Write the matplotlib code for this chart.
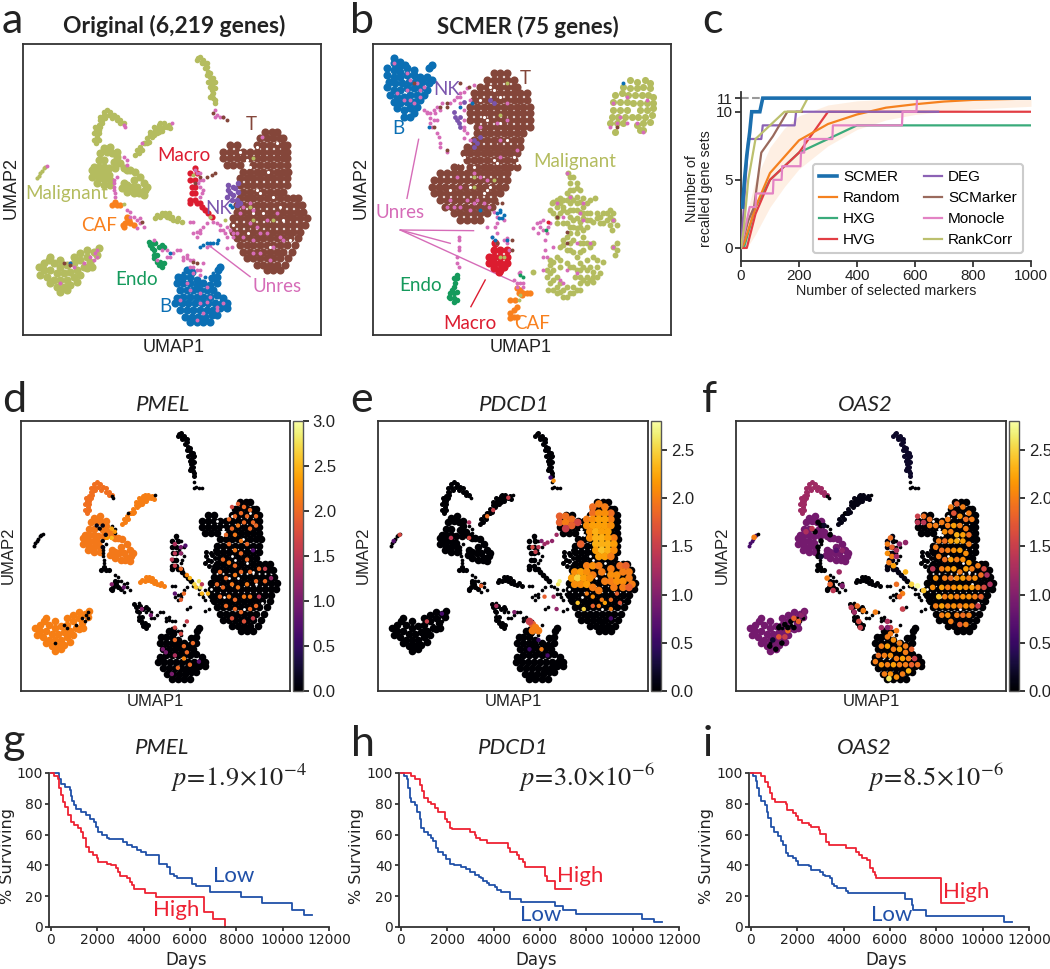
import numpy as np
import matplotlib
matplotlib.use('Agg')
import matplotlib.pyplot as plt
from matplotlib.cm import ScalarMappable
from matplotlib.colors import Normalize

W, H = 1050, 969
plt.rcParams['mathtext.fontset'] = 'stix'
SANS = 'Liberation Sans'
CAL = 'Lato'

# ---- embedding of panel a (and d, e, f): arbitrary UMAP units, y axis points down
A_T_ROWS = {39.5: [79.5, 81.5, 83], 41.5: [78, 80, 82, 84, 85],
            43.5: [69, 71, 77, 79, 81, 83, 85, 86], 45.5: [67, 69, 71, 73, 75, 77, 79, 81, 83, 85, 86],
            47.5: [67, 69, 71, 73, 75, 77, 79, 81, 83, 85, 86], 49.5: [68, 70, 72, 76, 78, 80, 82, 84, 86],
            51.5: [73, 75, 77, 79, 81, 83, 85, 86.5], 53.5: [72, 74, 76, 78, 80, 82, 84, 86],
            55.5: [72, 74, 76, 78, 80, 82, 84, 86], 57.5: [73, 75, 77, 79, 81, 83, 85],
            59.5: [72, 74, 76, 78, 80, 82, 84, 86, 88, 89.5], 61.5: [71, 73, 75, 77, 79, 81, 83, 85, 87, 89, 90.5],
            63.5: [71, 73, 75, 77, 79, 81, 83, 85, 87, 89, 91], 65.5: [70, 72, 74, 76, 78, 80, 82, 84, 86, 88, 90, 92],
            67.5: [70, 72, 74, 76, 78, 80, 82, 84, 86, 88, 90, 91.5], 69.5: [70, 72, 74, 76, 78, 80, 82, 84, 86, 88, 90],
            71.5: [71, 73, 75, 77, 79, 81, 83, 85, 87, 89.5], 73.5: [72, 74, 76, 78, 80, 82, 84, 86, 88.5],
            75.5: [73, 75, 77, 79, 81, 83, 85, 87.5], 77.5: [74, 76, 78, 80, 82, 84, 86.5],
            79.5: [77, 79, 81, 83, 85.5], 81: [80, 82, 84]}
A_T_HOLES = [(71, 51), (74, 48), (77, 57), (78, 58), (82, 59), (80.5, 51.5), (79, 64), (87, 72), (70, 67.5), (75, 50), (84, 62), (74.5, 70),
             (81, 74), (83, 43), (77, 44), (72, 45.5), (85, 66), (76, 64)]
A_B = [(56, 81), (57.5, 81.5), (65.5, 81), (66, 80), (65, 83), (63.5, 83.5), (55, 83), (53.5, 83), (57, 83), (59, 84),
       (53, 85), (55, 85), (57, 85), (59, 85.5), (61, 85), (63, 85.5), (65, 85), (62, 87), (64, 87), (54, 87), (56, 87),
       (58, 87), (60, 87), (55, 89), (57, 89), (59, 89), (61, 89), (63, 89), (65, 88.5), (53, 89.5), (67, 89.5),
       (52.5, 91), (54.5, 91), (56.5, 91), (58.5, 91), (60.5, 91), (62.5, 91), (64.5, 91), (66.5, 91), (68, 91),
       (54, 93), (56, 93), (58, 93), (60, 93), (62, 93), (64, 93), (66, 92.5), (68, 92.5), (55.5, 95), (57.5, 95),
       (59.5, 95), (61.5, 95), (63.5, 94.5), (65, 94.5), (57, 96.5), (59, 96.5), (61, 96.5), (63, 96.5)]
A_MACRO = [(58.5, 50.5), (57, 52), (59, 52), (57, 54), (58.5, 54), (57.5, 56), (58.5, 56), (57.5, 58), (58.5, 58),
           (57, 60), (58.5, 60), (57, 61), (60, 61), (59, 61), (60.5, 62), (61.5, 63), (62.5, 64), (63.5, 65)]
A_CAF = [(34.5, 60.5), (33.5, 61.5), (35, 61.5), (36, 61.5), (38, 65), (37.5, 67), (38.5, 66), (37, 68), (39, 67),
         (40, 67.5), (38, 65.5), (36.8, 67.5)]
A_ENDO = [(45, 73.5), (46.5, 73), (46, 75), (47.5, 74), (48.5, 73.5), (46, 77.5), (47, 78.5), (47.5, 79.5), (48.5, 80),
          (47, 76.5), (44.5, 72.5), (45.5, 74.5), (49, 74), (46, 76.5), (48, 78.5), (49, 79), (46, 73)]
A_NK = [(68.5, 55.5), (70, 56), (71.5, 55), (69, 58), (70, 58.5), (71.5, 57.5), (68, 59), (69.5, 60), (71, 60), (72, 61),
        (71, 61.5), (70.5, 56.5), (68.5, 57)]
A_TOP = [(59.5, 17.5), (61, 18), (60.5, 19), (62, 20), (62.5, 21.5), (63, 23), (63.5, 24), (64, 25), (63, 26), (63.5, 27),
         (64, 28), (64, 29.5), (64.5, 31), (60.5, 18.5), (61.5, 19), (63, 22), (64, 23.5), (63.5, 28.5), (59, 18), (60, 17),
         (61.5, 20.5), (62, 22.5), (63.5, 25.5), (64.5, 26.5), (62.5, 24.5), (64, 26.5), (63, 29), (64.5, 30), (62, 19), (64.5, 24.5)]
A_ARC = [(28.8, 43), (29, 41), (28.8, 39), (29.5, 37.5), (30.5, 36), (30, 38), (29.5, 40), (31, 34.5), (32, 33),
         (33, 33.5), (34, 34.5), (35, 35), (36, 36), (37, 37), (31.5, 35.5), (30.5, 37), (28, 42), (28, 40), (28.5, 38),
         (29.5, 42), (30, 36), (31, 33.5), (32.5, 34.5), (33.5, 35.5), (35, 36), (36, 37), (30, 35), (29.5, 39)]
A_STRAND = [(40.5, 46.5), (41, 45), (42, 44), (43, 43), (44, 41.5), (45, 40.5), (46, 39.5), (47, 38.5), (48, 38.2),
            (49, 38), (50, 38), (46.5, 38.5), (47.5, 37.5), (45.5, 41), (47, 40), (48.5, 39.2), (46, 40.5), (41.5, 46),
            (42.5, 45), (43.5, 43), (44.5, 42.5), (45, 39.5), (47.5, 39.5), (49, 37), (50.5, 37.5), (51, 38.5), (44, 43),
            (48, 37), (46, 38)]
A_FLOWER = [(30, 46), (32, 45.5), (33.5, 46), (35, 47), (29.5, 48), (31, 48), (34, 48.5), (36, 49), (28, 50), (29.5, 50),
            (31, 50), (32.5, 50.5), (34.5, 50.5), (28, 52), (29.5, 52), (31, 52), (32.5, 52.5), (29.5, 53.5), (31, 53.8),
            (33, 54), (39, 51), (40.5, 51.5), (42, 53), (43, 55), (43.5, 57), (42, 57.5), (41, 56), (39.5, 56), (38, 55.5),
            (37, 55), (36.5, 56.5), (40, 54), (38, 51), (41.5, 58), (37, 50.5), (31, 44.5), (33, 44), (35, 45.5), (27.5, 51),
            (27.5, 53), (29, 55), (31, 55.5), (33, 55.5), (38, 57.5), (40, 58), (43, 58.5), (44, 56)]
A_STICK = [(11, 53.5), (11.5, 52.8), (12, 52), (12.5, 51.3), (13, 50.5), (13.5, 50)]
A_STRIP = [(46.5, 65.3), (48, 65), (49, 64.5), (50, 65), (51, 65.5), (52, 66), (53, 66.3), (54.5, 66.5), (49.5, 63.8), (47, 64.5),
           (48.5, 63.8), (50.5, 64), (51.5, 65), (53.5, 65.5)]
A_LOWER = [(14.5, 78), (16, 79), (18, 80), (20, 79.5), (22, 79), (24, 78), (26, 77), (28, 75.5), (29.5, 74.5), (11.5, 80),
           (13, 81), (15, 81), (17, 82), (19, 82), (21, 81.5), (23, 81), (25, 80), (27, 78.5), (29, 76.5), (12, 82.5),
           (14, 83), (16, 84), (18, 84), (20, 84), (22, 83), (24, 82.5), (26, 80.5), (27.5, 80), (15, 85), (17, 86),
           (19, 86), (21, 85.5), (23, 84.5), (18, 87.5), (20, 87), (13, 79), (15, 77), (18, 78), (22, 77), (24, 76), (26, 75)]
A_UNRES = [(64.5, 33), (65, 34.5), (66, 35), (67, 35), (64.5, 35), (34, 54), (34, 55), (34, 56), (34.2, 57), (34.5, 58),
           (34.5, 59), (35, 53), (37, 47), (38, 48), (38, 49.5), (37, 37.5), (37.5, 38), (51.5, 37), (42.5, 43), (14, 49.8),
           (58.5, 51), (59, 52), (60, 52), (60, 54), (59.5, 55), (61, 54), (60, 56), (61, 57), (60.5, 58), (60, 59),
           (63, 65), (64, 66.5), (65, 67), (66, 67.5), (66, 69), (67, 69), (67.5, 70), (68, 68), (69, 69), (70, 70), (70, 71),
           (68, 71), (62, 67), (61, 68), (60, 69), (59, 69.5), (58, 70), (60, 70), (59, 71), (57, 66.5), (58, 66.5),
           (29, 75), (28.5, 76), (29, 77), (27, 77), (28, 78), (25, 79), (22, 80), (21, 79), (18, 85), (38, 63), (39, 63.5),
           (39, 65), (40, 65), (41, 66), (42, 67), (43, 68), (41, 68.5), (42, 65.5), (46, 72), (47, 78), (50, 75), (50, 77),
           (51, 77), (52, 76), (53, 75), (54, 75), (55, 77), (56, 76.5), (56, 77.5), (57, 78), (58, 78), (57, 80), (58, 80),
           (59, 81), (60, 81), (60, 82.5), (58, 82), (61, 79), (55, 78), (48.5, 75), (62, 74), (63, 73.5), (68, 74.5),
           (69.5, 74), (78.5, 41), (72, 64), (75, 61), (71, 70), (73, 71), (75, 67), (76, 72), (78, 70), (80, 70), (82, 74),
           (84, 71), (78, 76), (76, 76), (81, 78), (85, 72), (73, 62), (76, 63), (77, 68), (80, 66), (83, 64), (56, 85),
           (57, 87), (60, 88), (62, 86), (63, 89), (65, 92), (60, 91), (54, 90), (61, 94), (59, 96), (67, 91), (62, 90.5), (65, 93)]
A_SPARSE_BLUE = [(60, 74), (61, 73.5), (62, 73), (63, 73), (64, 73), (65.5, 72), (65, 73), (69, 61.5), (69.5, 62), (51, 76),
                 (21, 79), (61.5, 83), (63, 83), (55, 82), (64, 82)]
A_SPARSE_BROWN = [(62, 53), (63.5, 52.5), (64.5, 52), (60, 53), (58.5, 55), (67, 35), (68, 36), (64, 34), (42.5, 66.5),
                  (58, 78.5), (59, 79), (19, 79), (21, 79.5), (72, 66), (90, 70.5)]
A_SPARSE_OLIVE = [(37, 61.3), (46.5, 65.3), (67.5, 66), (63, 65), (76, 47.5), (75, 62), (76, 66), (82, 66), (58, 52.5)]

# ---- embedding of panel b
B_T_ROWS = {22: [43, 45, 47], 24: [41, 43, 45, 47, 49], 26: [39, 41, 43, 45, 47, 49, 50],
            28: [37, 39, 41, 43, 45, 47, 49, 51, 53], 30: [37, 39, 41, 43, 45, 47, 49, 51, 53],
            32: [36, 38, 40, 42, 44, 46, 48, 50, 52, 54], 34: [36, 38, 40, 42, 44, 46, 48, 50, 52, 54],
            36: [36, 38, 40, 42, 44, 46, 48, 50, 52, 54], 38: [38, 40, 42, 44, 46, 48, 50, 52, 54],
            40: [38, 40, 42, 44, 46, 48, 50, 52], 42: [37, 39, 41, 43, 45, 47, 49, 51],
            44: [35, 37, 39, 41, 43, 45, 47, 49, 51], 46: [34, 36, 38, 40, 42, 44, 46, 48, 50],
            48: [35, 37, 39, 41, 43, 45, 47, 49], 50: [31, 33, 36, 38, 40, 42, 44, 46, 48, 50],
            52: [27, 29, 31, 33, 35, 37, 39, 41, 43, 45, 47], 54: [25, 27, 29, 31, 33, 35, 37, 39, 41, 43, 45, 47],
            56: [24.5, 26.5, 28.5, 30.5, 32.5, 34.5, 36.5, 38.5, 40.5, 42.5, 44.5, 46.5],
            58: [25, 27, 29, 31, 33, 35, 37, 39, 41, 43, 45], 60: [27, 29, 31, 33, 35, 37, 39, 41, 43],
            62: [28.5, 30.5, 32.5, 34.5, 36.5, 38.5, 40.5, 42.5], 64: [31, 33, 35, 37, 39, 41], 66: [33, 35, 37, 39]}
B_T_HOLES = [(40, 35), (41, 36), (42, 26), (43, 27), (45, 37), (43, 48), (44, 49), (49, 47), (50, 49), (34, 47), (33, 49), (37, 50), (40, 58),
             (42, 56), (41, 57), (39, 30), (45, 29), (47, 42), (36, 56), (30, 57)]
B_B = [(13, 17.5), (15, 18.5), (13, 19), (14.5, 20), (16.5, 19.5), (11, 20.5), (13, 21), (15, 21.5), (17, 20.5), (19, 21),
       (11, 22.5), (13, 23), (15, 23), (17, 22.5), (19, 22.5), (21, 23), (23, 23), (24.5, 24), (11.5, 24.5), (13.5, 25),
       (15.5, 25), (17.5, 24.5), (19.5, 24.5), (21.5, 24.5), (23.5, 25), (11, 26), (13, 27), (15, 27), (17, 26.5), (19, 26.5),
       (21, 26.5), (23, 27), (12, 28.5), (14, 29), (16, 29), (18, 28.5), (20, 28.5), (22, 28.5), (13, 30.5), (15, 31),
       (17, 30.5), (19, 30.5), (21, 30), (14, 32.5), (16, 33), (18, 32.5), (20, 32), (16, 35), (18, 35), (19, 34),
       (24.5, 19.5), (23.5, 20.5)]
B_MAL_UP = [(84, 24), (86, 24.5), (88.5, 24), (90, 25), (82, 26), (84, 26.5), (86, 26.5), (88, 26), (90, 26.5), (79.5, 28.5),
            (81.5, 28), (83.5, 28.5), (85.5, 28.5), (87.5, 28.5), (89.5, 28.5), (91, 29), (79, 30.5), (81, 30.5), (83, 30.5),
            (85, 31), (87, 31), (89, 31), (91, 31), (79, 33), (81, 33), (83, 33), (87, 33), (89, 33), (91, 32.5), (78.5, 35),
            (80.5, 35), (82.5, 35), (84.5, 35), (86.5, 35), (88.5, 35), (90.5, 34.5), (78, 37), (80, 37), (82, 37), (86, 37.5),
            (88, 37), (90, 36.5), (79.5, 39.5), (87, 39), (88, 39)]
B_MAL_LOW = [(65.5, 52), (67, 53), (66, 55), (68, 55), (67, 57), (69, 57), (65, 58), (62, 60), (64, 60), (66, 59), (68, 59),
             (70, 59.5), (60.5, 61), (62, 62), (64, 62), (66, 61), (68, 61), (70, 62), (72, 60), (73.5, 59.5), (61, 64), (63, 64),
             (65, 63.5), (67, 63), (69, 63.5), (71, 64), (66, 65), (68, 65.5), (70, 65.5), (72, 66), (74, 65.5), (76, 64), (78, 63),
             (79, 64), (79, 66), (77, 66), (75, 67), (80, 67.5), (78.5, 69), (65, 67), (67, 68), (69, 68), (71, 68), (62, 67),
             (66, 70), (68, 70), (70, 71), (64, 72), (66, 73), (69, 73), (71, 73), (73, 73), (79, 74), (80, 75), (79.5, 76.5),
             (63, 74), (65, 75), (67, 75.5), (70, 75), (68, 77), (69, 79), (71, 78), (73, 77), (60, 78), (62, 77), (60, 79.5),
             (59, 81), (61, 81), (63, 80), (66, 80), (68, 81), (70, 80), (72, 80), (74, 80), (76, 78.5), (59, 83), (62, 83),
             (67.5, 83), (69, 83), (71, 83), (73, 83), (75, 82), (60, 85), (62, 86), (64, 87), (67, 86), (69, 85), (71, 85),
             (73, 84.5), (59.5, 87), (62, 88), (64, 89), (66, 88), (68, 87), (55, 81.5), (66, 53), (68, 56.5), (66, 57), (63, 59.5),
             (61, 60.5), (63, 61), (65, 60), (67, 60), (69, 60.5), (71, 61), (60, 63), (62, 65), (64, 63), (66, 63), (68, 63), (70, 64),
             (72, 64), (74, 64), (77, 64), (78, 65), (67, 66), (69, 66.5), (71, 66), (73, 66.5), (75, 65), (76, 67), (78, 67.5), (64, 67),
             (66, 68), (68, 68.5), (70, 69), (65, 71), (67, 72), (70, 73), (72, 74), (80, 73), (64, 73.5), (66, 75), (69, 75.5), (61, 78.5),
             (63, 78), (65, 79), (67, 80), (69, 81), (71, 81), (73, 81.5), (60, 82), (61, 84), (63, 85), (65, 86), (70, 84), (72, 84),
             (74, 83), (61, 87), (63, 87.5), (65, 89), (67, 88), (69, 87), (74, 78)]
B_MACRO = [(43.5, 73), (45, 75), (43, 75), (41.5, 77), (43, 77), (45, 77), (47, 77), (41.5, 79), (43, 79), (45, 79), (47, 79),
           (43, 80.5), (45, 81), (46, 80), (44.5, 81.5), (47, 75)]
B_ENDO = [(32, 82.5), (32, 83.5), (31.5, 85), (31, 86), (30, 88), (29.5, 89), (31, 88), (32, 87.5), (30, 89.5), (31, 89.5),
          (31, 90.5), (32, 90), (30.5, 87), (31, 83.5)]
B_CAF = [(50, 86.5), (51, 87), (52, 88), (53, 88), (54, 88), (51.5, 88.5), (50.5, 88), (48, 90), (49.5, 90), (50, 92), (49, 93),
         (48, 94), (49, 95), (47.8, 95.5), (50, 95), (51.5, 88)]
B_NK = [(31, 33.5), (31.5, 35), (32, 36), (32.5, 37), (33, 38), (37, 42), (38, 43), (37, 44), (33, 35), (34, 30.5), (42, 30),
        (43, 31), (39, 41)]
B_UNRES = [(22, 33), (23, 34), (24, 34), (25, 33), (24, 35.5), (25, 36), (24, 37), (23, 33.5), (25.5, 34), (26, 32), (27, 33),
           (27.5, 31), (26, 36), (24.5, 38), (26, 40), (26.5, 41), (27, 43), (27, 44), (29, 45.5), (30, 31), (31, 30), (32, 29),
           (33, 28), (34, 27.5), (35, 26.5), (37, 25.5), (33, 31), (34, 33), (34, 36), (34, 38), (35, 40), (34, 41.5), (36, 42),
           (34, 39), (39, 38), (41.5, 62), (43, 63.5), (44, 65), (46, 66), (44, 67), (41, 68), (43.5, 68), (44, 70), (42.5, 71),
           (46, 72), (47, 73), (47.5, 75), (47, 71.5), (44, 73), (32.5, 71), (32.5, 72), (32.5, 74), (32.5, 75), (32, 77),
           (32, 79), (32.5, 80), (50.5, 82), (49, 84), (50, 85), (51, 85), (52, 85), (50, 86), (52, 86), (51, 81.5), (55, 68.5),
           (56, 67), (57, 66.5), (57, 68), (58, 69), (59, 70), (56.5, 70), (58, 66), (59.5, 68), (60, 67), (58.5, 72), (58.5, 75),
           (58, 77), (59, 77), (61, 74), (58, 81), (63, 84), (33, 62), (35, 60), (37, 61), (36, 63), (38, 60), (33, 56), (32, 53),
           (41, 54), (40, 61), (45, 47), (36, 30), (44, 37), (47, 36), (45, 42), (39, 53), (37, 52), (47, 31), (50, 45), (33, 29),
           (31, 62), (30, 60), (29, 62), (13, 19), (17, 22), (18, 24), (20, 25), (21, 27), (14, 28), (16, 30), (18, 30), (21, 29),
           (22, 26), (17, 27), (19, 31), (79, 31), (81, 35), (83, 37), (78, 38), (88, 39.5), (86, 37), (89, 30), (83, 29), (80, 37),
           (65, 52), (66, 59), (62, 61), (70, 61), (69, 64), (64, 65), (79, 66), (79, 74), (68, 73), (72, 73), (65, 81), (64, 85),
           (68, 82), (70, 66)]
B_SPARSE_BLUE = [(44, 64), (45, 63.5), (46, 64.5), (44.5, 65.5), (45.5, 65.5), (43.5, 72), (47, 72), (39, 63), (33, 32),
                 (42.5, 71), (82, 25), (23.5, 38), (45, 63), (36.5, 31)]
B_SPARSE_BROWN = [(25, 38), (27, 32), (29, 32), (29, 31), (33, 25), (35.5, 26), (29, 45), (48.5, 75), (48.5, 72), (44, 61),
                  (45.5, 61), (62, 65), (65, 69.5), (65, 73), (80, 38), (19, 25), (44, 73)]
B_SPARSE_OLIVE = [(51, 88.5), (50.5, 90), (45, 34.5), (47, 25), (43, 54), (37, 53), (37, 56), (45, 77), (46, 77)]
B_SPARSE_GREEN = [(58.8, 69), (51, 82.5), (52, 83)]
B_SPARSE_RED = [(59.5, 66.5)]

# ---- expression levels: one level per cluster of the embedding, then single hot cells (x, y, value)
CLUSTER_NAMES = ['T', 'B', 'Macro', 'CAF', 'Endo', 'NK', 'top', 'arc', 'strand', 'flower', 'stick', 'strip', 'lower', 'Unres']
PMEL_LEVELS = [0, 0, 0, 0, 0, 0, 0, 2.05, 2.15, 2.1, 0, 2.15, 2.15, 0]
PDCD1_LEVELS = [0] * 14
OAS2_LEVELS = [0, 0, 0.1, 0, 0, 0, 0.2, 1.2, 0.1, 0.9, 0.6, 0, 0.9, 0]

PMEL_HOT = [(77, 41, 1.7), (79, 40, 1.9), (81, 41, 2), (83, 42, 2), (85, 44, 2), (84, 46, 2), (82, 44, 2), (80, 43, 2), (78, 44, 2),
            (76, 45, 2), (81, 46, 2), (83, 48, 2), (79, 47, 2.1), (77, 48, 2), (85, 47, 2), (75, 50, 2), (78, 50, 2.1), (80, 52, 2.1),
            (82, 53, 2), (76, 53, 2), (78, 55, 2.1), (80, 56, 2), (74, 58, 2), (76, 59, 2.1), (78, 60, 2), (82, 58, 2), (84, 55, 0.7),
            (73, 62, 2), (75, 64, 2), (78, 63, 2.1), (80, 62, 2), (83, 62, 2), (86, 61, 2), (88, 61, 1.6), (72, 66, 2), (74, 67, 2),
            (77, 66, 2.1), (79, 67, 2.1), (82, 66, 2.1), (85, 65, 2), (88, 65, 2), (90, 64, 1.2), (73, 70, 2), (76, 70, 2.1), (78, 71, 2),
            (81, 70, 2.1), (83, 70, 2.1), (86, 70, 1.5), (75, 73, 2), (78, 74, 2), (80, 75, 2), (83, 74, 2), (85, 73, 2), (77, 77, 1.8),
            (81, 78, 1.8), (84, 77, 1.6), (58, 84, 2), (60, 82, 1.7), (62, 88, 2), (58, 89, 1.4), (61, 90, 2.2), (55, 88, 1), (63, 92, 2),
            (59, 93, 2), (57, 95, 1), (61, 86, 2), (64, 85, 2), (54, 87, 1), (66, 91, 0.8), (58, 53, 1.4), (58, 56, 1.5), (58, 60, 1.6),
            (57, 58, 1.5), (60, 61, 2), (62, 63, 2.2), (63, 64, 2.5), (64.5, 66, 2.7), (66, 65, 2.8), (66.5, 67, 2.8), (67, 69, 2.5),
            (65, 67, 2.6), (67, 66, 1.5), (69, 69, 2.5), (60, 56, 1.2), (60, 54, 1), (61.5, 53.5, 0.7), (38, 49, 2.3), (37, 48, 2.4),
            (35.5, 51, 2.3), (37, 51, 2.5), (34, 47, 0.1), (33, 48, 0), (32, 47, 0.1), (35, 50, 0.1), (34, 52, 0), (34, 54, 0.1),
            (41, 67, 0.9), (37, 66, 1.1), (60, 71, 1.9), (61, 69, 2), (58, 69, 0.8), (50, 76, 1), (58, 80, 1.7), (47, 74, 1.1), (62, 78, 1.6)]
PDCD1_HOT_BIG = [(67, 44, 1.8), (69, 44, 1.9), (71, 45, 1.9), (73, 46, 1.6), (67, 46, 1.8), (69, 46, 2), (71, 47, 1.8), (69, 48, 1.5),
                 (78, 41, 1.9), (80, 40, 2), (82, 41, 2), (84, 43, 1.9), (78, 43, 1.9), (80, 43, 2.1), (82, 43, 2.1), (84, 45, 2), (76, 45, 2),
                 (78, 45, 2.1), (80, 45, 2.2), (82, 45, 2.2), (76, 47, 2.1), (78, 47, 2.2), (80, 47, 2.2), (82, 47, 2.2), (84, 47, 2.1),
                 (77, 49, 2.1), (79, 49, 2.3), (81, 49, 2.2), (83, 49, 2.2), (85, 51, 2), (77, 51, 2.1), (79, 51, 2.3), (81, 51, 2.3),
                 (83, 51, 2.2), (74, 53, 1.8), (79, 53, 2.3), (81, 53, 2.3), (83, 53, 2.3), (85, 53, 2.2), (79, 55, 2.2), (81, 55, 2.4),
                 (83, 55, 2.3), (85, 55, 2.1), (80, 57, 2.2), (82, 57, 2.2), (84, 57, 2), (76, 60, 2), (78, 60, 2.1), (80, 60, 2), (72, 62, 2.1),
                 (74, 62, 2.2), (76, 62, 2.1), (78, 63, 2), (81, 62, 2), (84, 61, 2), (87, 60, 1.9), (89, 60, 1.8), (71, 64, 2.2), (73, 64, 2.5),
                 (75, 64, 2.2), (77, 64, 2.1), (84, 63, 2.1), (86, 63, 2.1), (88, 62, 2), (90, 62, 2), (72, 66, 2.1), (74, 66, 2.1), (76, 66, 2.2),
                 (78, 67, 2), (82, 65, 2), (84, 65, 2), (86, 65, 2.1), (88, 65, 2.1), (90, 64, 2), (91, 66, 2), (80, 68, 2), (85, 67, 2), (88, 67, 2),
                 (90, 67, 1.8), (58, 79, 1.8), (59, 80, 2), (57, 78, 1.5), (60, 81, 2), (58, 81, 2)]
PDCD1_HOT = [(76, 69, 2), (78, 70, 2.1), (81, 71, 2), (84, 71, 1.9), (80, 73, 2), (84, 74, 2), (78, 73, 1.8), (73, 72, 2.4), (75, 74, 2.5),
             (86, 69, 1.8), (87, 72, 1.7), (60, 54, 1.4), (62, 53, 1.2), (63, 52.5, 1.2), (61, 52, 1), (58, 54, 1.6), (59, 55.5, 1.5), (64.5, 52, 1.1),
             (66, 50, 1.2), (37, 51, 1.6), (37, 46, 1.3), (31, 51, 1.4), (41, 66.5, 1.8), (50, 38, 1.5), (45, 42, 1.5), (14, 50, 1.6), (12, 52, 0.7),
             (43, 44, 1.9), (65, 32.5, 2.1), (64, 31.5, 0.5), (66.5, 66, 2.6), (67, 65, 2.7), (46, 73, 1.3), (52, 75, 1), (60, 84, 0.5), (57, 87, 0.5),
             (63, 89, 0.6), (61, 87, 2), (23, 78, 1.5), (28, 75.5, 0.6), (62, 70, 1.8), (65, 70, 1.2), (66, 74, 1.1), (84, 77, 0.6), (82, 72, 2.2)]
OAS2_HOT = [(78, 41, 2), (80, 40, 1.8), (82, 41, 2), (84, 43, 2), (79, 43, 1.7), (81, 44, 2.1), (83, 45, 1.9), (85, 45, 2), (77, 45, 2), (75, 46, 2),
            (67, 44, 1.5), (69, 44, 1.9), (71, 45, 1.9), (67, 46, 1.4), (69, 46, 1.4), (71, 47, 2), (73, 47, 2), (77, 47, 2), (79, 47, 2.2), (81, 47, 2),
            (83, 48, 2), (76, 49, 2.1), (78, 49, 2), (80, 50, 2.3), (82, 50, 2.2), (84, 50, 1.9), (74, 52, 2), (76, 52, 1.9), (78, 52, 2.2), (80, 52, 2.3),
            (82, 52, 2.2), (84, 53, 2), (73, 54, 2), (75, 55, 1.9), (77, 55, 2), (79, 55, 2.1), (81, 55, 2.2), (83, 56, 2.1), (74, 57, 2), (76, 58, 1.9),
            (78, 58, 2.2), (80, 58, 2), (82, 58, 2.1), (84, 59, 2.2), (72, 61, 1.4), (75, 61, 2), (77, 61, 2.1), (79, 61, 2.2), (81, 62, 2), (83, 61, 2.2),
            (85, 61, 2), (87, 60, 2), (89, 61, 1.6), (73, 64, 2.1), (76, 64, 2), (78, 64, 1.9), (80, 64, 2.1), (82, 64, 2.2), (84, 64, 2), (86, 64, 2.1),
            (88, 63, 1.9), (90, 63, 1.3), (72, 67, 2.1), (75, 67, 2.2), (77, 67, 2), (79, 67, 2.1), (81, 67, 2.2), (83, 67, 2.1), (85, 67, 2.2), (87, 67, 2),
            (89, 67, 1.6), (91, 66, 1.3), (74, 70, 2.4), (76, 70, 2), (78, 70, 2.1), (80, 70, 2), (82, 70, 2.1), (84, 70, 2.1), (86, 70, 2), (88, 70, 1.8),
            (73, 73, 2), (75, 73, 2.2), (77, 73, 2), (79, 73, 2.1), (81, 73, 2), (83, 73, 2.1), (85, 73, 2), (87, 73, 1.5), (75, 76, 2), (77, 76, 2.1),
            (80, 76, 2), (82, 76, 1.9), (84, 76, 2), (78, 78, 2), (81, 79, 1.8), (83, 79, 2),
            (57, 83, 2), (59, 84, 2.1), (61, 85, 2), (63, 86, 2), (55, 86, 2), (57, 86, 2.2), (59, 87, 2), (61, 87, 2.2), (63, 88, 2), (65, 87, 1.8),
            (54, 89, 1.9), (56, 89, 2), (58, 89, 2.1), (60, 90, 2), (62, 90, 2.2), (64, 90, 2), (66, 90, 1.5), (53, 91, 2), (55, 92, 2.1), (57, 92, 2),
            (59, 92, 2.2), (61, 92, 2), (63, 92, 2), (65, 92, 1.8), (67, 92, 1.9), (56, 95, 2), (58, 95, 2.1), (60, 96, 2.1), (62, 95, 2), (64, 94, 2.3),
            (57.5, 96.5, 2.6), (55, 80, 1.2), (57, 78, 1.3), (58, 80, 1.5), (60, 81, 2), (58, 82, 2), (57, 80, 1), (53, 75, 2), (62, 74, 1.5),
            (58, 51, 1.9), (57, 53, 2), (58.5, 54, 1.8), (57, 56, 2.1), (58.5, 57, 2), (57.5, 59, 2), (59, 60, 2.2), (60, 55, 1.3), (61, 53, 1.1), (63, 52.5, 1.1),
            (60, 57, 1.2), (47, 73, 1.9), (45, 73.5, 1.4), (46, 75, 1.2), (47.5, 78, 1.6), (48, 80, 1.5), (49, 74.5, 2), (62, 69, 2), (61, 70, 1.8), (60, 66, 1.9),
            (63, 62, 2.3), (65, 66, 2.5), (67, 66.5, 2.8), (69, 68, 2.4), (37, 64, 2), (38, 66, 1.8), (39, 68, 1.4), (42, 66.5, 1), (12.8, 50.8, 2), (41, 62, 1.2),
            (35, 47, 0), (33, 49, 0), (35, 52, 0), (36, 47, 0.2), (38, 50, 0), (34, 54, 0), (34, 57, 0), (34, 60, 0), (35, 57, 0.2),
            (23, 79, 0), (25, 78, 0), (27, 77.5, 0), (24, 81, 1.9), (21, 83, 1.7), (26, 80, 0), (27.5, 78, 1.8), (22, 85, 0), (20, 87, 0), (18, 86, 0), (23, 83, 1.5),
            (28.5, 76, 1.1), (29.5, 75, 1), (24, 80, 0), (26, 77, 1.8), (21, 80, 0), (19, 84, 0.2), (32, 48, 1.4), (30, 49, 1.3), (34, 46, 0), (42, 55, 1.1), (40, 55, 0.7)]

# ---- panel c: recalled gene sets
C_NAMES = ['SCMER', 'Random', 'HXG', 'HVG', 'DEG', 'SCMarker', 'Monocle', 'RankCorr']
SCMER_X = [5, 12, 20, 30, 37, 65, 75, 1000]
SCMER_Y = [3, 5, 6.8, 8.5, 10, 10, 11, 11]
RANDOM_X = [0, 10, 50, 100, 200, 300, 400, 500, 600, 700, 800, 900, 1000]
RANDOM_Y = [0, 0.3, 3, 5.5, 7.9, 9.1, 9.8, 10.3, 10.55, 10.75, 10.87, 10.92, 10.97]
BAND_X = [0, 20, 50, 100, 150, 200, 300, 400, 500, 600, 700, 800, 1000]
BAND_LOW = [0, 0, 1, 3, 4.5, 5.8, 7.5, 8.7, 9.4, 9.8, 10, 10.2, 10.4]
BAND_HIGH = [0, 2.5, 5, 7.4, 8.8, 9.7, 10.5, 10.8, 10.9, 11, 11, 11, 11]
HXG_X = [0, 10, 50, 100, 150, 200, 300, 400, 1000]
HXG_Y = [0, 0, 3, 5, 6, 7, 8, 9, 9]
HVG_X = [0, 20, 50, 100, 150, 200, 250, 300, 1000]
HVG_Y = [0, 0, 2.5, 5, 6, 7, 8.5, 10, 10]
DEG_X = [0, 10, 25, 70, 75, 185, 190, 680]
DEG_Y = [0, 3, 8, 8, 9, 9, 10, 10]
SCMARKER_X = [0, 25, 45, 70, 110, 160, 210]
SCMARKER_Y = [0, 2, 3, 7, 8.2, 10, 10]
MONOCLE_X = [0, 10, 20, 30, 50, 52, 110, 112, 140, 142, 205, 207, 218, 220, 315, 317, 555, 557, 605, 607, 700]
MONOCLE_Y = [0, 1, 2, 3, 3, 4, 4, 5, 5, 6, 6, 7, 7, 8, 8, 9, 9, 10, 10, 11, 11]
RANKCORR_X = [0, 10, 25, 50, 100, 150, 205, 230, 240]
RANKCORR_Y = [0, 1.5, 5, 8, 9, 10, 10, 11, 11]

# ---- survival curves (days, % surviving)
G_LOW = [(0, 100), (280, 100), (350, 96), (420, 93), (600, 91), (800, 89), (860, 85), (900, 82), (1000, 79), (1100, 76.5), (1300, 74.5),
         (1500, 72.5), (1700, 70), (1850, 68), (1950, 65), (2050, 62), (2200, 59.5), (2400, 58), (2500, 57), (2950, 57), (3100, 55), (3300, 53),
         (3500, 52), (3700, 50), (3900, 49), (4100, 46.5), (4550, 46.5), (4650, 41), (5000, 39), (5150, 34.5), (5300, 33), (5450, 31.5), (6000, 31.5),
         (6100, 28), (6250, 26.5), (6800, 26.5), (6850, 23), (8150, 23), (8200, 19.5), (9050, 19.5), (9100, 15.5), (10350, 15.5), (10400, 11),
         (10850, 11), (10900, 7.5), (11250, 7.5)]
G_HIGH = [(0, 100), (150, 98), (300, 96), (350, 90), (420, 86), (500, 81), (620, 78), (750, 73), (850, 68), (1000, 66), (1150, 64), (1300, 62),
          (1400, 58), (1520, 52), (1650, 49), (1800, 47), (2000, 45), (2050, 42), (2400, 41), (2600, 40), (2800, 38), (2900, 35.5), (3000, 33),
          (3300, 32), (3400, 29), (3500, 27), (3600, 25), (3950, 24.5), (4050, 22), (4500, 22), (4550, 19.5), (6550, 19.5), (6600, 10), (6950, 10),
          (7000, 5), (7500, 5), (7520, 0)]
H_HIGH = [(0, 100), (300, 100), (450, 98), (600, 96), (800, 92), (900, 88), (1000, 84), (1150, 81), (1300, 80), (1450, 77), (1600, 75), (1800, 74.5),
          (1900, 70), (2000, 68), (2100, 64), (2200, 63.5), (2950, 63.5), (3000, 62), (3200, 60), (3250, 57.5), (3400, 56.5), (3650, 56.5), (3700, 54.5),
          (4500, 54.5), (4600, 51), (4700, 49), (5000, 47), (5100, 44), (5250, 42), (5350, 39), (6150, 39), (6200, 33), (6300, 30), (6600, 30), (6650, 25),
          (7350, 25)]
H_LOW = [(0, 100), (150, 98), (250, 96), (320, 90), (380, 84), (450, 81), (600, 79), (700, 75), (800, 70), (870, 64), (1000, 62), (1150, 60), (1300, 58),
         (1400, 56), (1500, 51), (1600, 49), (1800, 47), (1950, 44), (2100, 41), (2300, 40), (2600, 39), (2800, 37.5), (3000, 36), (3200, 34), (3350, 32.5),
         (3450, 32), (3550, 30), (3700, 28.5), (3800, 27), (4050, 26), (4150, 24), (4300, 23), (4600, 22.5), (4700, 18.5), (5150, 18.5), (5200, 16.5),
         (6600, 16.5), (6650, 13.5), (6950, 13.5), (7000, 11), (7500, 11), (7550, 8.5), (10350, 8.5), (10400, 5.5), (10850, 5.5), (10900, 3), (11250, 3)]
I_HIGH = [(0, 100), (300, 100), (450, 98), (600, 94), (750, 91), (830, 87), (900, 83), (1050, 81), (1500, 80), (1550, 76), (1800, 74), (1950, 72),
          (2050, 69.5), (2200, 67.5), (2500, 66.5), (2600, 65), (2850, 65), (2950, 63), (3000, 60.5), (3200, 60.5), (3250, 55), (3350, 53.5), (4050, 53.5),
          (4100, 51.5), (4450, 51), (4550, 49), (4650, 46.5), (4800, 45), (5000, 43.5), (5150, 38), (5250, 36), (5350, 34), (5400, 31.5), (8150, 31.5),
          (8200, 15.5), (9200, 15.5)]
I_LOW = [(0, 100), (100, 98), (200, 95), (280, 90), (350, 85), (450, 82), (600, 79), (680, 75), (750, 71), (850, 65), (1000, 62), (1150, 59), (1300, 56),
         (1400, 53), (1500, 48), (1600, 46), (1800, 45), (1950, 43), (2050, 40.5), (2500, 39.5), (2600, 37), (3000, 36), (3100, 34), (3200, 33), (3400, 32),
         (3500, 28), (3600, 26.5), (3700, 25.5), (4050, 25.5), (4100, 23.5), (4200, 22), (6600, 22), (6650, 18.5), (6900, 18.5), (6950, 14.5), (7000, 11),
         (7500, 11), (7550, 7), (10850, 7), (10900, 3.5), (11250, 3.5)]

# colours
C_T = '#84463a'; C_B = '#0b6fb4'; C_MACRO = '#dc1c30'; C_CAF = '#f9801d'; C_ENDO = '#159a5c'
C_NK = '#7b55ad'; C_MAL = '#b4bc5f'; C_UNRES = '#d66cb8'
BIG = 34
THIN = 16
SMALL = 8


def px_axes(x0, y0, x1, y1):
    return fig.add_axes([x0 / W, 1 - y1 / H, (x1 - x0) / W, (y1 - y0) / H])


def px_text(x, y, s, **kw):
    kw.setdefault('ha', 'center')
    kw.setdefault('va', 'center')
    return fig.text(x / W, 1 - y / H, s, **kw)


def rows_to_points(rows):
    return [(x, y) for y, xs in rows.items() for x in xs]


def dots(ax, points, color, size=SMALL):
    arr = np.array(points)
    ax.scatter(arr[:, 0], arr[:, 1], s=size, c=color, linewidths=0, zorder=3)


def umap_axes(x0, y0, x1, y1):
    ax = px_axes(x0, y0, x1, y1)
    ax.set_xlim(6.8, 96.3)
    ax.set_ylim(100.5, 13.2)
    ax.set_xticks([])
    ax.set_yticks([])
    for s in ax.spines.values():
        s.set_linewidth(1.3)
        s.set_color('#333333')
    return ax


fig = plt.figure(figsize=(W / 100, H / 100), dpi=100, facecolor='white')

# panel a
ax_a = umap_axes(23, 44, 321, 335)
dots(ax_a, rows_to_points(A_T_ROWS), C_T, BIG)
dots(ax_a, A_T_HOLES, 'white', 5)
dots(ax_a, A_B, C_B, BIG)
dots(ax_a, A_MACRO, C_MACRO, 20)
dots(ax_a, A_CAF, C_CAF, 20)
dots(ax_a, A_ENDO, C_ENDO, THIN)
for cl, sz in [(A_TOP, THIN), (A_ARC, THIN), (A_STRAND, THIN), (A_FLOWER, BIG), (A_STICK, 9), (A_STRIP, THIN), (A_LOWER, BIG)]:
    dots(ax_a, cl, C_MAL, sz)
dots(ax_a, A_NK, C_NK, THIN)
dots(ax_a, A_UNRES, C_UNRES)
dots(ax_a, A_SPARSE_BLUE, C_B)
dots(ax_a, A_SPARSE_BROWN, C_T)
dots(ax_a, A_SPARSE_OLIVE, C_MAL)
ax_a.plot([62.5, 75], [73.5, 83], color=C_UNRES, lw=1, zorder=2)
for s, x, y, c in [('T', 75.5, 37.5, C_T), ('Macro', 55, 46.7, C_MACRO), ('Malignant', 20, 58, C_MAL), ('CAF', 29.5, 67.5, C_CAF),
                   ('NK', 65.5, 62.5, C_NK), ('Endo', 41, 83.8, C_ENDO), ('B', 49.5, 91.8, C_B), ('Unres', 83, 86, C_UNRES)]:
    ax_a.text(x, y, s, color=c, family=CAL, fontsize=13.5, ha='center', va='center', zorder=5)

# panel b
ax_b = umap_axes(373, 44, 671, 335)
dots(ax_b, rows_to_points(B_T_ROWS), C_T, BIG)
dots(ax_b, B_T_HOLES, 'white', 5)
dots(ax_b, B_B, C_B, BIG)
dots(ax_b, B_MAL_UP, C_MAL, 26)
dots(ax_b, B_MAL_LOW, C_MAL, 18)
dots(ax_b, B_MACRO, C_MACRO, BIG)
dots(ax_b, B_ENDO, C_ENDO, THIN)
dots(ax_b, B_CAF, C_CAF, 20)
dots(ax_b, B_NK, C_NK, 12)
dots(ax_b, B_UNRES, C_UNRES)
dots(ax_b, B_SPARSE_BLUE, C_B)
dots(ax_b, B_SPARSE_BROWN, C_T)
dots(ax_b, B_SPARSE_OLIVE, C_MAL)
dots(ax_b, B_SPARSE_GREEN, C_ENDO)
dots(ax_b, B_SPARSE_RED, C_MACRO)
ax_b.plot([20.5, 17], [41.8, 59.5], color=C_UNRES, lw=1)
ax_b.plot([15, 37], [69, 69.2], color=C_UNRES, lw=1)
ax_b.plot([15, 30], [69, 73], color=C_UNRES, lw=1)
ax_b.plot([15, 49], [69, 84.5], color=C_UNRES, lw=1)
ax_b.plot([40.5, 36.2], [84, 92], color=C_MACRO, lw=1)
for s, x, y, c in [('T', 52.5, 23.5, C_T), ('NK', 29, 26.8, C_NK), ('B', 14.5, 38.5, C_B), ('Malignant', 67.5, 48.3, C_MAL),
                   ('Unres', 15, 63.8, C_UNRES), ('Endo', 21, 85.5, C_ENDO), ('Macro', 36, 97, C_MACRO), ('CAF', 54.5, 97, C_CAF)]:
    ax_b.text(x, y, s, color=c, family=CAL, fontsize=13.5, ha='center', va='center', zorder=5)

px_text(174, 26, 'Original (6,219 genes)', family=CAL, fontweight='bold', fontsize=16.5, color='#222222')
px_text(528, 27, 'SCMER (75 genes)', family=CAL, fontweight='bold', fontsize=16, color='#222222')

# panel c
ax_c = px_axes(741, 92, 1031, 261)
ax_c.set_xlim(0, 1000)
ax_c.set_ylim(-0.96, 11.45)
ax_c.fill_between(BAND_X, BAND_LOW, BAND_HIGH, color=C_CAF, alpha=0.12, linewidth=0)
ax_c.plot([0, 75], [11, 11], color='#999999', lw=1.5, ls='--', zorder=1)
ax_c.plot(RANDOM_X, RANDOM_Y, color='#f5811f', lw=1.6, label='Random', zorder=3)
ax_c.plot(HXG_X, HXG_Y, color='#3aab7b', lw=1.6, label='HXG', zorder=2)
ax_c.plot(HVG_X, HVG_Y, color='#e23e44', lw=1.6, label='HVG', zorder=2.5)
ax_c.plot(DEG_X, DEG_Y, color='#8c62b5', lw=1.6, label='DEG', zorder=3)
ax_c.plot(SCMARKER_X, SCMARKER_Y, color='#9a6a5d', lw=1.6, label='SCMarker', zorder=3)
ax_c.plot(MONOCLE_X, MONOCLE_Y, color='#e383c4', lw=1.6, label='Monocle', zorder=3.5)
ax_c.plot(RANKCORR_X, RANKCORR_Y, color='#bcc06e', lw=1.6, label='RankCorr', zorder=3.5)
ax_c.plot(SCMER_X, SCMER_Y, color='#1b6fae', lw=2.6, label='SCMER', zorder=5, solid_joinstyle='miter')
ax_c.set_yticks([0, 5, 10, 11])
ax_c.set_xticks([0, 200, 400, 600, 800, 1000])
ax_c.tick_params(labelsize=11, width=1.2, length=4, pad=2, colors='#222222')
for lab in ax_c.get_xticklabels() + ax_c.get_yticklabels():
    lab.set_family(SANS)
for s in ['top', 'right']:
    ax_c.spines[s].set_visible(False)
for s in ['left', 'bottom']:
    ax_c.spines[s].set_linewidth(1.3)
    ax_c.spines[s].set_color('#333333')
handles, labels = ax_c.get_legend_handles_labels()
order = [labels.index(n) for n in C_NAMES]
leg = ax_c.legend([handles[i] for i in order], [labels[i] for i in order], ncol=2, loc='lower right',
                  bbox_to_anchor=(0.972, 0.047), borderaxespad=0, prop={'family': SANS, 'size': 11}, frameon=True,
                  columnspacing=1.5, handlelength=1.2, handletextpad=0.4, labelspacing=0.45, borderpad=0.4, edgecolor='#cccccc', framealpha=1)
leg.get_frame().set_linewidth(1.5)
leg.set_zorder(6)
px_text(886, 291, 'Number of selected markers', family=SANS, fontsize=10.3, color='#222222')
px_text(699, 189, 'Number of\nrecalled gene sets', family=SANS, fontsize=10.3, rotation=90, color='#222222', linespacing=1.05)

# panels d, e, f share the embedding of panel a
CLUSTERS = [(rows_to_points(A_T_ROWS), 30), (A_B, 30), (A_MACRO, 16), (A_CAF, 14), (A_ENDO, 13), (A_NK, 13), (A_TOP, 13), (A_ARC, 13),
            (A_STRAND, 13), (A_FLOWER, 30), (A_STICK, 8), (A_STRIP, 13), (A_LOWER, 30), (A_UNRES, 7)]
cmap = plt.get_cmap('inferno')


def expression_panel(box, cbar_x, vmax, ticks, levels, hot, hot_big, hot_size, title, title_x, lab_x, ylab_x):
    ax = umap_axes(box, 421, cbar_x - 3, 691)
    norm = Normalize(0, vmax)
    for (points, size), level in zip(CLUSTERS, levels):
        dots(ax, points, [cmap(norm(level))], size)
    dots(ax, A_T_HOLES, 'white', 4)
    for group, size in [(hot_big, 30), (hot, hot_size)]:
        if group:
            arr = np.array(group)
            ax.scatter(arr[:, 0], arr[:, 1], c=arr[:, 2], cmap=cmap, norm=norm, s=size, linewidths=0, zorder=4)
    cax = px_axes(cbar_x, 421, cbar_x + 10, 691)
    cb = fig.colorbar(ScalarMappable(norm=norm, cmap=cmap), cax=cax, ticks=ticks)
    cb.ax.set_yticklabels(['%.1f' % t for t in ticks], family=SANS, fontsize=12, color='#222222')
    cb.ax.tick_params(length=4, width=1.1, pad=3)
    cb.outline.set_linewidth(1)
    cb.outline.set_edgecolor('#555555')
    px_text(title_x, 405, title, family=CAL, style='italic', fontsize=16, color='#222222')
    px_text(lab_x, 702, 'UMAP1', family=SANS, fontsize=12, color='#222222')
    px_text(ylab_x, 555, 'UMAP2', family=SANS, fontsize=12, rotation=90, color='#222222')


TICKS_3 = [0, 0.5, 1, 1.5, 2, 2.5, 3]
TICKS_25 = [0, 0.5, 1, 1.5, 2, 2.5]
expression_panel(21, 293, 3.0, TICKS_3, PMEL_LEVELS, PMEL_HOT, None, 10, 'PMEL', 163, 155, 8)
expression_panel(378, 651, 2.8, TICKS_25, PDCD1_LEVELS, PDCD1_HOT, PDCD1_HOT_BIG, 10, 'PDCD1', 514, 513, 363)
expression_panel(736, 1009, 2.8, TICKS_25, OAS2_LEVELS, OAS2_HOT, None, 16, 'OAS2', 865, 871, 722)

px_text(174, 347, 'UMAP1', family=SANS, fontsize=13, color='#222222')
px_text(11, 188, 'UMAP2', family=SANS, fontsize=13, rotation=90, color='#222222')
px_text(521, 347, 'UMAP1', family=SANS, fontsize=13, color='#222222')
px_text(361, 188, 'UMAP2', family=SANS, fontsize=13, rotation=90, color='#222222')


# panels g, h, i
def km_panel(x0, low, high, gene, title_x, p_text, p_x, low_xy, high_xy, ylab_x):
    ax = px_axes(x0, 773, x0 + 280, 927)
    ax.set_xlim(-86, 12000)
    ax.set_ylim(0, 100)
    lo = np.array(low)
    hi = np.array(high)
    ax.step(lo[:, 0], lo[:, 1], where='post', color='#2050a8', lw=1.3, clip_on=False)
    ax.step(hi[:, 0], hi[:, 1], where='post', color='#ee2233', lw=1.3, clip_on=False)
    ax.set_xticks([0, 2000, 4000, 6000, 8000, 10000, 12000])
    ax.set_yticks([0, 20, 40, 60, 80, 100])
    ax.tick_params(labelsize=10, width=1.2, length=3, pad=1.5, colors='#222222')
    for s in ['top', 'right']:
        ax.spines[s].set_visible(False)
    for s in ['left', 'bottom']:
        ax.spines[s].set_linewidth(1.3)
        ax.spines[s].set_color('#333333')
    px_text(title_x, 748, gene, family=CAL, style='italic', fontsize=16, color='#222222')
    px_text(p_x, 778, p_text, fontsize=19, color='#222222')
    px_text(low_xy[0], low_xy[1], 'Low', family=CAL, fontsize=16, color='#2050a8')
    px_text(high_xy[0], high_xy[1], 'High', family=CAL, fontsize=16, color='#ee2233')
    px_text(x0 + 137, 960, 'Days', fontsize=12, color='#222222')
    px_text(ylab_x, 856, '% Surviving', fontsize=11.5, rotation=90, color='#222222')


km_panel(49, G_LOW, G_HIGH, 'PMEL', 162, r'$p\!=\!1.9\!\times\!10^{-4}$', 239, (234, 876), (176, 910), 8)
km_panel(399, H_LOW, H_HIGH, 'PDCD1', 513, r'$p\!=\!3.0\!\times\!10^{-6}$', 587, (541, 915), (580, 876), 357)
km_panel(749, I_LOW, I_HIGH, 'OAS2', 864, r'$p\!=\!8.5\!\times\!10^{-6}$', 936, (892, 915), (966, 892), 707)

# panel letters
for s, x, y in [('a', 2, 33), ('b', 350, 33), ('c', 702, 33), ('d', 2, 412), ('e', 350, 412), ('f', 702, 412), ('g', 3, 754), ('h', 351, 756), ('i', 703, 756)]:
    px_text(x, y, s, family=CAL, fontsize=31, ha='left', va='baseline', color='#222222')

fig.savefig('out.png', dpi=100)
